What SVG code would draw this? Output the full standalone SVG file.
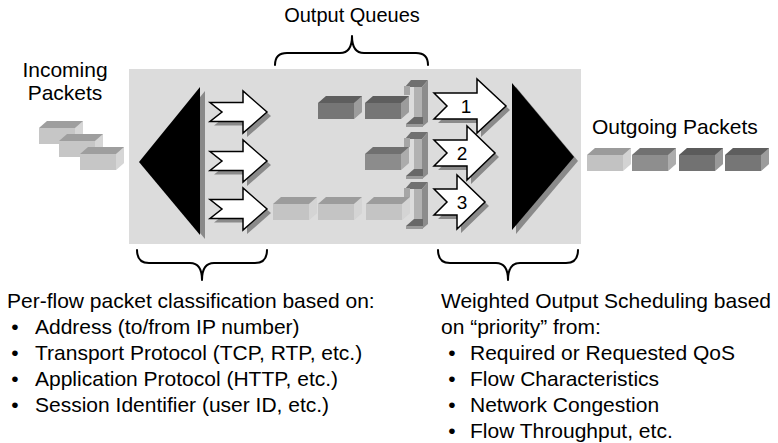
<svg xmlns="http://www.w3.org/2000/svg" xmlns:xlink="http://www.w3.org/1999/xlink" width="778" height="443" viewBox="0 0 778 443">
  <style>
    text { font-family: "Liberation Sans", Arial, Helvetica, sans-serif; fill: #000; }
    .lbl { font-size: 21px; }
    .num { font-size: 19px; text-anchor: middle; }
    .brace { fill: none; stroke: #000; stroke-width: 2; stroke-linecap: round; stroke-linejoin: round; }
    .arrow { fill: #fff; stroke: #000; stroke-width: 1.5; stroke-linejoin: miter; }
    .shadow { fill: #8a8a8a; }
    .tri { fill: #000; }
  </style>
  <defs>
    <!-- 3D packet box; base colour taken from the color attribute -->
    <g id="pkt">
      <path d="M0,7 L8,0 L44,0 L44,16 L36,23 L0,23 Z" fill="currentColor"/>
      <path d="M0,7 L8,0 L44,0 L36,7 Z" fill="#000" fill-opacity="0.2"/>
      <path d="M36,7 L44,0 L44,16 L36,23 Z" fill="#fff" fill-opacity="0.28"/>
    </g>
    <!-- queue end stop (3D bracket) -->
    <g id="stop">
      <path d="M2,7 L8,0 L25,0 L19,7 Z" fill="#707070"/>
      <rect x="1" y="6" width="6" height="9" fill="#a6a6a6"/>
      <rect x="11" y="7" width="9" height="40" fill="#b2b2b2"/>
      <path d="M19,7 L25,0 L25,42 L19,47 Z" fill="#8c8c8c"/>
      <path d="M3,44 L11,37 L20,37 L20,44 Z" fill="#686868"/>
      <rect x="3" y="44" width="17" height="3" fill="#9a9a9a"/>
    </g>
    <path id="inArrow" d="M0,-9.5 L33,-9.5 L33,-21 L57,0 L33,21 L33,9.5 L0,9.5 L12,0 Z"/>
  </defs>

  <!-- switch panel -->
  <g id="panel">
    <rect x="129" y="69" width="452" height="175" fill="#dcdcdc"/>
  </g>

  <!-- classifier (demultiplexer) -->
  <g id="classifier">
    <path class="shadow" d="M144,166 L205,91 L205,239 Z"/>
    <path class="tri" d="M139,162 L200,87 L200,235 Z"/>
  </g>

  <!-- scheduler (multiplexer) -->
  <g id="scheduler">
    <path class="shadow" d="M516,87 L578,161 L516,234 Z"/>
    <path class="tri" d="M512,83 L574,157 L512,230 Z"/>
  </g>

  <!-- incoming packets -->
  <g id="incoming-packets">
    <use xlink:href="#pkt" x="39" y="121" color="#c6c6c6"/>
    <use xlink:href="#pkt" x="59" y="134" color="#c6c6c6"/>
    <use xlink:href="#pkt" x="80" y="147" color="#c6c6c6"/>
  </g>

  <!-- output queues -->
  <g id="queue-1">
    <use xlink:href="#pkt" x="318" y="96" color="#767676"/>
    <use xlink:href="#pkt" x="365" y="96" color="#767676"/>
    <use xlink:href="#stop" x="403" y="80"/>
  </g>
  <g id="queue-2">
    <use xlink:href="#pkt" x="365" y="147" color="#8c8c8c"/>
    <use xlink:href="#stop" x="403" y="132"/>
  </g>
  <g id="queue-3">
    <use xlink:href="#pkt" x="273" y="197" color="#c4c4c4"/>
    <use xlink:href="#pkt" x="318" y="197" color="#c4c4c4"/>
    <use xlink:href="#pkt" x="366" y="197" color="#c4c4c4"/>
    <use xlink:href="#stop" x="403" y="182"/>
  </g>

  <!-- outgoing packets -->
  <g id="outgoing-packets">
    <use xlink:href="#pkt" x="587" y="148" color="#c2c2c2"/>
    <use xlink:href="#pkt" x="632" y="148" color="#8e8e8e"/>
    <use xlink:href="#pkt" x="679" y="148" color="#727272"/>
    <use xlink:href="#pkt" x="725" y="148" color="#767676"/>
  </g>

  <!-- flow arrows -->
  <g id="connectors">
    <g id="in-arrows">
      <use xlink:href="#inArrow" class="shadow" x="214" y="116"/>
      <use xlink:href="#inArrow" class="arrow" x="210" y="112"/>
      <use xlink:href="#inArrow" class="shadow" x="214" y="165"/>
      <use xlink:href="#inArrow" class="arrow" x="210" y="161"/>
      <use xlink:href="#inArrow" class="shadow" x="214" y="213"/>
      <use xlink:href="#inArrow" class="arrow" x="210" y="209"/>
    </g>
    <g id="out-arrow-1">
      <path class="shadow" transform="translate(4,4)" d="M434,93 L477,93 L477,79 L506,106 L477,133 L477,119 L434,119 L447,106 Z"/>
      <path class="arrow" d="M434,93 L477,93 L477,79 L506,106 L477,133 L477,119 L434,119 L447,106 Z"/>
      <text class="num" x="466" y="113">1</text>
    </g>
    <g id="out-arrow-2">
      <path class="shadow" transform="translate(4,4)" d="M434,140 L467,140 L467,126 L495,153 L467,180 L467,166 L434,166 L447,153 Z"/>
      <path class="arrow" d="M434,140 L467,140 L467,126 L495,153 L467,180 L467,166 L434,166 L447,153 Z"/>
      <text class="num" x="462" y="160">2</text>
    </g>
    <g id="out-arrow-3">
      <path class="shadow" transform="translate(4,4)" d="M434,189 L457,189 L457,175 L485,202 L457,229 L457,215 L434,215 L447,202 Z"/>
      <path class="arrow" d="M434,189 L457,189 L457,175 L485,202 L457,229 L457,215 L434,215 L447,202 Z"/>
      <text class="num" x="462" y="209">3</text>
    </g>
  </g>

  <!-- braces -->
  <g id="braces">
    <path class="brace" d="M275,65 Q275,53 287,53 L340,53 Q352,53 352,36 Q352,53 364,53 L416,53 Q428,53 428,65"/>
    <path class="brace" d="M137,250 Q137,263 149,263 L190,263 Q202,263 202,280 Q202,263 214,263 L255,263 Q267,263 267,250"/>
    <path class="brace" d="M438,250 Q438,263 450,263 L496,263 Q508,263 508,280 Q508,263 520,263 L566,263 Q578,263 578,250"/>
  </g>

  <!-- labels -->
  <g id="labels">
    <text class="lbl" x="65" y="77" text-anchor="middle">Incoming</text>
    <text class="lbl" x="65" y="100" text-anchor="middle">Packets</text>
    <text class="lbl" x="352" y="22" text-anchor="middle" style="font-size:20px">Output Queues</text>
    <text class="lbl" x="592" y="134">Outgoing Packets</text>
  </g>

  <g id="classification-note">
    <text class="lbl" x="7" y="308">Per-flow packet classification based on:</text>
    <text class="lbl" x="15" y="334" text-anchor="middle">•</text>
    <text class="lbl" x="35" y="334">Address (to/from IP number)</text>
    <text class="lbl" x="15" y="360" text-anchor="middle">•</text>
    <text class="lbl" x="35" y="360">Transport Protocol (TCP, RTP, etc.)</text>
    <text class="lbl" x="15" y="386" text-anchor="middle">•</text>
    <text class="lbl" x="35" y="386">Application Protocol (HTTP, etc.)</text>
    <text class="lbl" x="15" y="412" text-anchor="middle">•</text>
    <text class="lbl" x="35" y="412">Session Identifier (user ID, etc.)</text>
  </g>

  <g id="scheduling-note">
    <text class="lbl" x="441" y="308">Weighted Output Scheduling based</text>
    <text class="lbl" x="441" y="334">on “priority” from:</text>
    <text class="lbl" x="452" y="360" text-anchor="middle">•</text>
    <text class="lbl" x="470" y="360">Required or Requested QoS</text>
    <text class="lbl" x="452" y="386" text-anchor="middle">•</text>
    <text class="lbl" x="470" y="386">Flow Characteristics</text>
    <text class="lbl" x="452" y="412" text-anchor="middle">•</text>
    <text class="lbl" x="470" y="412">Network Congestion</text>
    <text class="lbl" x="452" y="438" text-anchor="middle">•</text>
    <text class="lbl" x="470" y="438">Flow Throughput, etc.</text>
  </g>
</svg>
